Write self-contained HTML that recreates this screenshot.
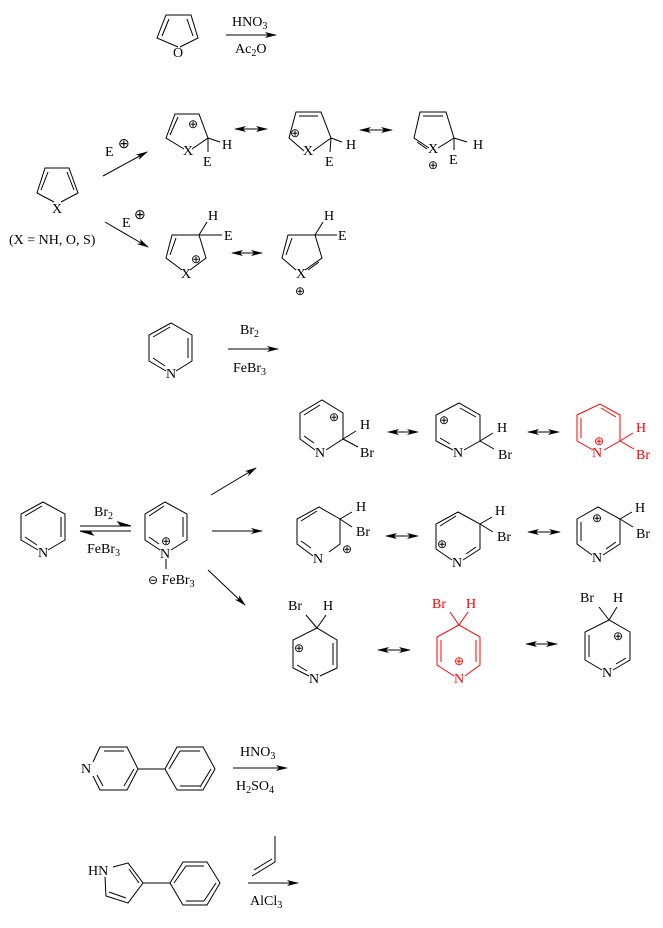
<!DOCTYPE html>
<html><head><meta charset="utf-8"><style>
html,body{margin:0;padding:0;background:#fff;}
svg{display:block;}
text{font-family:"Liberation Serif",serif;font-size:14px;}
.s{font-size:10px;}
.c{font-size:12px;}
.r{fill:#f00;}
</style></head><body>
<svg width="663" height="928" viewBox="0 0 663 928" xmlns="http://www.w3.org/2000/svg">
<defs>
<marker id="ah" markerWidth="12" markerHeight="8" refX="11" refY="4" orient="auto" markerUnits="userSpaceOnUse"><path d="M0,1 L12,4 L0,7 L3,4 Z" fill="#000"/></marker>
<marker id="ahs" markerWidth="12" markerHeight="8" refX="11" refY="4" orient="auto-start-reverse" markerUnits="userSpaceOnUse"><path d="M0,1 L12,4 L0,7 L3,4 Z" fill="#000"/></marker>
</defs>
<g fill="none" stroke="#000" stroke-width="1">
<polyline points="178,47 157,38 166,15 191,15 198,38 180,47"/>
<line x1="162" y1="36" x2="169" y2="19"/><line x1="193" y1="36" x2="187" y2="19"/>
<line x1="226" y1="35" x2="276" y2="35" marker-end="url(#ah)"/>

<polyline points="54,202 37,193 45,168 69,168 78,193 61,202"/>
<line x1="41" y1="190" x2="48" y2="172"/><line x1="74" y1="190" x2="67" y2="172"/>
<line x1="103" y1="176" x2="147" y2="152" marker-end="url(#ah)"/>
<line x1="105" y1="222" x2="148" y2="247" marker-end="url(#ah)"/>

<polyline points="184,149 166,138 175,114 199,114 208,138 192,149"/>
<line x1="170" y1="135" x2="178" y2="117"/>
<line x1="208" y1="138" x2="220" y2="142"/><line x1="208" y1="138" x2="208" y2="152"/>
<line x1="235" y1="129" x2="267" y2="129" marker-start="url(#ahs)" marker-end="url(#ahs)"/>
<polyline points="304,151 289,138 296,112 321,112 331,138 313,151"/>
<line x1="299" y1="116" x2="318" y2="116"/>
<line x1="331" y1="138" x2="342" y2="142"/><line x1="331" y1="138" x2="330" y2="152"/>
<line x1="360" y1="130" x2="392" y2="130" marker-start="url(#ahs)" marker-end="url(#ahs)"/>
<polyline points="429,148 414,138 420,112 446,112 454,138 438,148"/>
<line x1="423" y1="116" x2="443" y2="116"/><line x1="417" y1="142" x2="427" y2="149"/>
<line x1="454" y1="138" x2="467" y2="142"/><line x1="454" y1="138" x2="454" y2="150"/>

<polyline points="182,270 166,258 172,235 199,235 206,258 190,270"/>
<line x1="170" y1="255" x2="176" y2="238"/>
<line x1="199" y1="235" x2="207" y2="222"/><line x1="199" y1="235" x2="222" y2="235"/>
<line x1="232" y1="253" x2="262" y2="253" marker-start="url(#ahs)" marker-end="url(#ahs)"/>
<polyline points="296,270 282,258 288,235 315,235 322,258 305,270"/>
<line x1="286" y1="255" x2="292" y2="238"/><line x1="319" y1="262" x2="308" y2="270"/>
<line x1="315" y1="235" x2="323" y2="222"/><line x1="315" y1="235" x2="337" y2="235"/>

<polyline points="166,371 149,361 149,335 171,323 192,335 192,361 176,371"/>
<line x1="153" y1="337" x2="170" y2="327"/><line x1="188" y1="338" x2="188" y2="358"/><line x1="153" y1="358" x2="165" y2="366"/>
<line x1="228" y1="349" x2="278" y2="349" marker-end="url(#ah)"/>

<polyline points="38,550 21,540 21,514 43,502 65,514 65,540 48,550"/>
<line x1="25" y1="516" x2="42" y2="506"/><line x1="61" y1="517" x2="61" y2="537"/><line x1="25" y1="537" x2="37" y2="545"/>
<line x1="80" y1="526" x2="131" y2="526"/><path d="M118,522 L131,526 L121,526 Z" fill="#000"/>
<line x1="80" y1="531" x2="131" y2="531"/><path d="M80,531 L93,535 L90,531 Z" fill="#000"/>
<polyline points="160,550 145,540 145,514 165,502 187,514 187,540 171,550"/>
<line x1="149" y1="516" x2="164" y2="506"/><line x1="183" y1="517" x2="183" y2="537"/><line x1="149" y1="537" x2="159" y2="544"/>
<line x1="166" y1="559" x2="166" y2="569"/>
<line x1="211" y1="495" x2="256" y2="468" marker-end="url(#ah)"/>
<line x1="212" y1="531" x2="262" y2="531" marker-end="url(#ah)"/>
<line x1="208" y1="570" x2="245" y2="605" marker-end="url(#ah)"/>

<polyline points="315,450 300,439 300,413 322,400 343,413 343,439 326,450"/>
<line x1="304" y1="415" x2="320" y2="405"/><line x1="304" y1="436" x2="314" y2="443"/>
<line x1="343" y1="439" x2="356" y2="431"/><line x1="343" y1="439" x2="358" y2="447"/>
<line x1="388" y1="432" x2="418" y2="432" marker-start="url(#ahs)" marker-end="url(#ahs)"/>
<polyline points="453,450 436,441 436,415 459,403 480,415 480,441 464,450"/>
<line x1="460" y1="408" x2="476" y2="417"/><line x1="440" y1="438" x2="450" y2="444"/>
<line x1="480" y1="441" x2="493" y2="433"/><line x1="480" y1="441" x2="494" y2="449"/>
<line x1="528" y1="432" x2="559" y2="432" marker-start="url(#ahs)" marker-end="url(#ahs)"/>
<g stroke="#f00">
<polyline points="593,450 577,441 577,415 600,404 620,415 620,441 604,450"/>
<line x1="581" y1="418" x2="581" y2="438"/><line x1="601" y1="408" x2="616" y2="417"/>
<line x1="620" y1="441" x2="633" y2="433"/><line x1="620" y1="441" x2="634" y2="449"/>
</g>

<polyline points="313,556 297,544 297,519 319,507 340,519 340,544 329,552"/>
<line x1="301" y1="521" x2="317" y2="511"/><line x1="301" y1="541" x2="311" y2="548"/>
<line x1="340" y1="519" x2="352" y2="512"/><line x1="340" y1="519" x2="352" y2="527"/>
<line x1="386" y1="536" x2="418" y2="536" marker-start="url(#ahs)" marker-end="url(#ahs)"/>
<polyline points="452,560 436,549 436,524 458,512 480,524 480,549 463,560"/>
<line x1="440" y1="526" x2="456" y2="516"/><line x1="476" y1="547" x2="466" y2="554"/>
<line x1="480" y1="524" x2="492" y2="517"/><line x1="480" y1="524" x2="493" y2="532"/>
<line x1="528" y1="532" x2="560" y2="532" marker-start="url(#ahs)" marker-end="url(#ahs)"/>
<polyline points="592,555 577,544 577,519 598,507 620,519 620,544 603,555"/>
<line x1="581" y1="522" x2="581" y2="541"/><line x1="616" y1="542" x2="606" y2="549"/>
<line x1="620" y1="519" x2="632" y2="512"/><line x1="620" y1="519" x2="633" y2="527"/>

<polyline points="309,676 293,668 293,640 317,628 337,640 337,668 320,676"/>
<line x1="333" y1="643" x2="333" y2="665"/><line x1="297" y1="665" x2="307" y2="671"/>
<line x1="317" y1="628" x2="306" y2="615"/><line x1="317" y1="628" x2="326" y2="615"/>
<line x1="378" y1="650" x2="410" y2="650" marker-start="url(#ahs)" marker-end="url(#ahs)"/>
<g stroke="#f00">
<polyline points="454,676 437,665 437,637 459,625 480,637 480,665 465,676"/>
<line x1="441" y1="640" x2="441" y2="662"/><line x1="476" y1="640" x2="476" y2="662"/>
<line x1="459" y1="625" x2="450" y2="612"/><line x1="459" y1="625" x2="468" y2="612"/>
</g>
<line x1="526" y1="644" x2="557" y2="644" marker-start="url(#ahs)" marker-end="url(#ahs)"/>
<polyline points="602,670 585,660 585,632 609,620 630,632 630,660 613,670"/>
<line x1="589" y1="635" x2="589" y2="657"/><line x1="626" y1="658" x2="616" y2="664"/>
<line x1="609" y1="620" x2="599" y2="607"/><line x1="609" y1="620" x2="617" y2="607"/>

<polyline points="93,762 100,747 127,747 138,769 127,790 100,790 93,776"/>
<line x1="104" y1="751" x2="124" y2="751"/><line x1="134" y1="769" x2="124" y2="786"/><line x1="97" y1="775" x2="103" y2="786"/>
<line x1="138" y1="769" x2="165" y2="769"/>
<polygon points="165,769 177,747 203,747 215,769 203,790 177,790"/>
<line x1="180" y1="751" x2="200" y2="751"/><line x1="211" y1="769" x2="200" y2="787"/><line x1="180" y1="786" x2="200" y2="786"/><line x1="169" y1="769" x2="180" y2="751"/>
<line x1="233" y1="768" x2="287" y2="768" marker-end="url(#ah)"/>

<polyline points="113,867 128,863 143,883 128,903 106,896 105,877"/>
<line x1="129" y1="869" x2="139" y2="883"/><line x1="109" y1="892" x2="126" y2="898"/>
<line x1="143" y1="883" x2="170" y2="883"/>
<polygon points="170,883 183,862 207,862 220,883 207,905 183,905"/>
<line x1="186" y1="866" x2="204" y2="866"/><line x1="216" y1="883" x2="204" y2="901"/><line x1="186" y1="901" x2="204" y2="901"/><line x1="174" y1="883" x2="186" y2="866"/>
<polyline points="275,836 275,862 252,876"/><line x1="254" y1="870" x2="272" y2="859"/>
<line x1="248" y1="883" x2="298" y2="883" marker-end="url(#ah)"/>
</g>

<g fill="#000">
<text x="173" y="57">O</text>
<text x="232" y="26">HNO<tspan class="s" dy="3">3</tspan></text>
<text x="235" y="53">Ac<tspan class="s" dy="3">2</tspan><tspan dy="-3">O</tspan></text>

<text x="52" y="213">X</text>
<text x="9" y="244">(X = NH, O, S)</text>
<text x="105" y="156">E</text><text x="118" y="148" font-size="13">⊕</text>
<text x="122" y="227">E</text><text x="134" y="219" font-size="13">⊕</text>

<text x="183" y="155">X</text><text x="188" y="128" class="c">⊕</text><text x="222" y="149">H</text><text x="203" y="166">E</text>
<text x="303" y="155">X</text><text x="290" y="137" class="c">⊕</text><text x="346" y="149">H</text><text x="325" y="166">E</text>
<text x="428" y="153">X</text><text x="428" y="169" class="c">⊕</text><text x="473" y="149">H</text><text x="449" y="164">E</text>

<text x="181" y="278">X</text><text x="191" y="263" class="c">⊕</text><text x="208" y="220">H</text><text x="224" y="240">E</text>
<text x="296" y="278">X</text><text x="295" y="295" class="c">⊕</text><text x="324" y="220">H</text><text x="338" y="240">E</text>

<text x="166" y="378">N</text>
<text x="240" y="334">Br<tspan class="s" dy="3">2</tspan></text>
<text x="233" y="372">FeBr<tspan class="s" dy="3">3</tspan></text>

<text x="38" y="557">N</text>
<text x="94" y="516">Br<tspan class="s" dy="3">2</tspan></text>
<text x="87" y="553">FeBr<tspan class="s" dy="3">3</tspan></text>
<text x="160" y="558">N</text><text x="161" y="545" class="c">⊕</text>
<text x="148" y="584"><tspan class="c">⊖</tspan> FeBr<tspan class="s" dy="3">3</tspan></text>

<text x="315" y="457">N</text><text x="329" y="421" class="c">⊕</text><text x="360" y="429">H</text><text x="360" y="457">Br</text>
<text x="453" y="457">N</text><text x="439" y="424" class="c">⊕</text><text x="497" y="432">H</text><text x="498" y="459">Br</text>
<text x="592" y="457" class="r">N</text><text x="594" y="445" class="c r">⊕</text><text x="636" y="432" class="r">H</text><text x="636" y="459" class="r">Br</text>

<text x="313" y="563">N</text><text x="342" y="553" class="c">⊕</text><text x="356" y="511">H</text><text x="356" y="536">Br</text>
<text x="452" y="567">N</text><text x="437" y="548" class="c">⊕</text><text x="495" y="515">H</text><text x="497" y="541">Br</text>
<text x="592" y="562">N</text><text x="592" y="522" class="c">⊕</text><text x="635" y="512">H</text><text x="636" y="538">Br</text>

<text x="309" y="683">N</text><text x="294" y="652" class="c">⊕</text><text x="288" y="610">Br</text><text x="323" y="610">H</text>
<text x="454" y="683" class="r">N</text><text x="454" y="665" class="c r">⊕</text><text x="432" y="608" class="r">Br</text><text x="466" y="608" class="r">H</text>
<text x="602" y="677">N</text><text x="613" y="640" class="c">⊕</text><text x="580" y="602">Br</text><text x="613" y="602">H</text>

<text x="81" y="773">N</text>
<text x="240" y="756">HNO<tspan class="s" dy="3">3</tspan></text>
<text x="236" y="790">H<tspan class="s" dy="3">2</tspan><tspan dy="-3">SO</tspan><tspan class="s" dy="3">4</tspan></text>

<text x="88" y="875">HN</text>
<text x="250" y="905">AlCl<tspan class="s" dy="3">3</tspan></text>
</g>
</svg>
</body></html>
